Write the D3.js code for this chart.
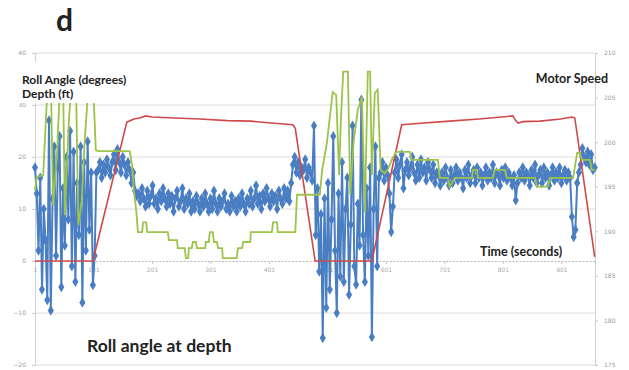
<!DOCTYPE html>
<html>
<head>
<meta charset="utf-8">
<script src="https://cdn.jsdelivr.net/npm/d3@7"></script>
<style>
  html, body { margin: 0; padding: 0; background: #fff; }
  svg { display: block; }
</style>
</head>
<body>
<div id="chart"></div>
<script>
// roll angle sampled every 3 seconds, starting at t = 1
const rollStep = 3;
const rollAngle = [
  18, 13, 2, 16, -5.5, 10, 4, -7.5, 27, -9.5, 12, 22, 1, 18, 24, -5, 14, 3, 20, 8,
  25, -1, 21, -4, 15, 5, 22, -8, 19, 2, 23, 6, 17, -4.6, 1, 17,
  17.5, 19, 16, 18.5, 17, 19.5, 18, 16.5, 19, 20.5, 17.5, 21.5, 19, 17, 20, 18.5, 16.5, 19, 17.5, 15, 17, 13.5, 12.5,
  13, 11.5, 14, 12, 10.5, 13.5, 11, 12.5, 14.5, 11, 12, 10, 13, 11.5, 14, 12, 10.5, 13, 11, 12.5,
  9.5, 12, 13.5, 10.5, 11.5, 14, 10, 12, 11, 13, 9.5, 11.5, 10, 12.5, 11, 9.5, 12, 10.5, 13, 11,
  9.5, 12, 10, 13.5, 11, 9.5, 12, 10.5, 11.5, 13, 10, 11, 9.5, 12.5, 10.5, 11.5, 9.5, 12, 10.5, 13,
  11, 9.5, 12, 11, 13.5, 10.5, 12, 14.5, 11, 12.5, 10, 13, 11.5, 14, 12, 10.5, 13, 11.5, 12.5, 10,
  13.5, 12, 11, 14, 12, 13.5, 11.5, 15,
  18.5, 20, 17, 19, 16.5, 18, 17.5, 19.5, 16, 18, 17, 15.5,
  26, 5, 14, -2, 9, -14.8, 12, -9, 15, -5.5, 8, 24, 2, -10, 13, -3, 19, -4, 10, 16,
  -6.5, 7, 26, -1, -4.5, 11, 3, 31, 5, -4, 14, 1, 18, -14.6, 10, 22, -1, 16,
  17, 19, 15.5, 18, 16.5, 13, 5.6, 10.5, 17, 19.5, 16, 18.5, 20.5, 14, 17.5, 19, 16.5, 18, 20, 17,
  15.5, 18.5, 16, 19.5, 17, 18, 15.5, 19, 17.5, 16, 18.5, 15, 17, 16.5, 14.5, 17, 15.5, 18, 16, 14.5,
  17.5, 15, 16.5, 18, 15.5, 17, 16, 14, 17.5, 16, 18.5, 15, 16.5, 17.5, 15, 18, 16, 17, 14.5, 16.5,
  18, 15.5, 17, 16, 18.5, 15, 17, 16.5, 14.5, 17.5, 16, 18, 15.5, 17, 16, 14.5, 16.5, 11.7, 15, 17,
  16, 18, 15.5, 17, 16.5, 14.5, 17.5, 16, 18.5, 15, 16.5, 17.5, 15, 18, 16, 17, 14.5, 16.5, 18, 15.5,
  17, 16, 18, 15, 16.5, 17.5, 15.5, 17, 16, 8.5, 4.6, 6, 15, 17, 18.5, 21.7, 20, 19, 21, 18.5,
  20.5, 17.5, 18
];

// depth (ft), left axis
const depthTime = [1, 100, 158, 170, 180, 190, 201, 240, 283, 330, 369, 410, 442, 446, 480, 577, 628, 660, 710, 760, 818, 823, 827, 835, 864, 900, 919, 924, 958];
const depthFt   = [0, 0, 26.7, 27.3, 27.5, 27.9, 27.7, 27.5, 27.3, 27.0, 26.9, 26.5, 26.2, 25.5, 0, 0, 26.2, 26.5, 26.9, 27.3, 27.9, 27.0, 26.5, 26.8, 26.9, 27.3, 27.7, 27.5, 0.8];

// motor speed, right axis
const speedTime = [1, 4, 15, 23, 28, 32, 39, 44, 49, 52, 59, 64, 71, 75, 81, 85, 93, 100, 105, 109,
  163, 167, 170, 174, 177, 184, 186, 191, 193, 228, 230, 244, 245, 257, 259, 263, 264, 269, 271, 276, 278,
  292, 293, 298, 300, 305, 307, 312, 314, 321, 322, 346, 348, 355, 357, 369, 370, 406, 408, 415, 416, 446, 449,
  488, 492, 500, 510, 516, 521, 524, 528, 536, 540, 546, 553, 560, 565, 570, 574, 577, 582, 587, 592, 599, 604,
  611, 618, 642, 645, 690, 693, 707, 710, 719, 748, 750, 757, 758, 784, 787, 804, 808, 856, 859, 878, 881,
  921, 928, 933, 936, 950, 953, 958];
const motorSpeed = [194.6, 196.1, 196.3, 207, 207, 192.9, 199.1, 207, 207, 191.8, 202.5, 207, 207, 190.7, 193.5, 199.1, 207, 207, 199.1, 199.0,
  199.0, 197.4, 194.6, 192.4, 189.9, 189.9, 191.0, 191.0, 189.9, 189.9, 189.0, 189.0, 188.1, 188.1, 187.0, 187.0, 188.1, 188.1, 188.8, 188.8, 188.1,
  188.1, 188.8, 188.8, 189.9, 189.9, 188.8, 188.8, 188.1, 188.1, 187.0, 187.0, 188.1, 188.1, 188.8, 188.8, 189.9, 189.9, 191.0, 191.0, 189.9, 189.9, 194.1,
  194.1, 196.9, 199.9, 205.6, 205.3, 196.3, 202.5, 207.9, 207.9, 194.1, 200.2, 203.6, 205.1, 192.1, 207.9, 207.9, 196.3, 205.5, 205.9, 196.9, 196.5, 196.9,
  198.0, 198.9, 198.9, 198.0, 198.0, 196.0, 196.0, 195.0, 196.0, 196.0, 196.9, 196.9, 196.0, 196.0, 196.9, 196.9, 196.0, 196.0, 195.0, 195.0, 196.0,
  196.0, 198.8, 198.8, 198.0, 198.0, 196.9, 196.9];

const leftTicks = [40, 30, 20, 10, 0, -10, -20];
const rightTicks = [210, 205, 200, 195, 190, 185, 180, 175];
const timeTicks = [1, 101, 201, 301, 401, 501, 601, 701, 801, 901];

const width = 629, height = 370;
const blue = "#4a7ec2", red = "#d0494a", green = "#9cc34a";

const svg = d3.select("#chart").append("svg")
  .attr("width", width)
  .attr("height", height);

const x = d3.scaleLinear().domain([1, 958.5]).range([35, 595]);
const yL = d3.scaleLinear().domain([-20, 40]).range([365, 53]);
const yR = d3.scaleLinear().domain([175, 210]).range([365, 53]);

// gridlines
svg.append("g")
  .selectAll("line")
  .data(leftTicks.filter(d => d !== 0))
  .join("line")
    .attr("x1", x.range()[0]).attr("x2", x.range()[1])
    .attr("y1", d => yL(d)).attr("y2", d => yL(d))
    .style("stroke", "#dcdcdc")
    .style("stroke-width", 1);

// left axis
const gL = svg.append("g")
  .attr("transform", `translate(${x.range()[0]},0)`)
  .call(d3.axisLeft(yL).tickValues(leftTicks).tickSize(3).tickPadding(6));
gL.select(".domain").style("stroke", "#d0d0d0");
gL.selectAll(".tick line").style("stroke", "#c8c8c8");
gL.selectAll("text").style("font-family", "DejaVu Sans").style("font-size", "6px").style("fill", "#999");

// right axis
const gR = svg.append("g")
  .attr("transform", `translate(${x.range()[1]},0)`)
  .call(d3.axisRight(yR).tickValues(rightTicks).tickSize(3).tickPadding(6));
gR.select(".domain").style("stroke", "#d0d0d0");
gR.selectAll(".tick line").style("stroke", "#c8c8c8");
gR.selectAll("text").style("font-family", "DejaVu Sans").style("font-size", "6px").style("fill", "#999");

// time axis sits at roll = 0
const gX = svg.append("g")
  .attr("transform", `translate(0,${yL(0)})`)
  .call(d3.axisBottom(x).tickValues(timeTicks).tickSize(3).tickPadding(4).tickFormat(d3.format("d")));
gX.select(".domain").style("stroke", "#b8b8b8").style("stroke-dasharray", "2,1.5");
gX.selectAll(".tick line").style("stroke", "#c8c8c8");
gX.selectAll("text").style("font-family", "DejaVu Sans").style("font-size", "6px").style("fill", "#aaa");

// roll angle series
const rollData = rollAngle.map((v, i) => ({t: 1 + i * rollStep, v: v}));
const rollLine = d3.line().x(d => x(d.t)).y(d => yL(d.v));

svg.append("path")
  .datum(rollData)
  .attr("d", rollLine)
  .attr("fill", "none")
  .style("stroke", blue)
  .style("stroke-width", 2);

svg.append("g")
  .selectAll("path")
  .data(rollData)
  .join("path")
    .attr("d", d3.symbol().type(d3.symbolDiamond).size(32))
    .attr("transform", d => `translate(${x(d.t)},${yL(d.v)})`)
    .attr("fill", blue);

// depth
const depthData = depthTime.map((t, i) => ({t: t, v: depthFt[i]}));
svg.append("path")
  .datum(depthData)
  .attr("d", d3.line().x(d => x(d.t)).y(d => yL(d.v)))
  .attr("fill", "none")
  .style("stroke", red)
  .style("stroke-width", 1.6);

// motor speed
const speedData = speedTime.map((t, i) => ({t: t, v: motorSpeed[i]}));
svg.append("path")
  .datum(speedData)
  .attr("d", d3.line().x(d => x(d.t)).y(d => yR(d.v)))
  .attr("fill", "none")
  .style("stroke", green)
  .style("stroke-width", 1.8);

// label box on the left covers the tops of the traces
svg.append("rect")
  .attr("x", 18).attr("y", 62)
  .attr("width", 122).attr("height", 41)
  .attr("fill", "#fff");

const label = (txt, lx, ly, size, anchor) => svg.append("text")
  .attr("x", lx).attr("y", ly)
  .attr("text-anchor", anchor || "start")
  .style("font-family", "Lato, 'Liberation Sans', sans-serif")
  .style("font-weight", "bold")
  .style("font-size", size + "px")
  .style("fill", "#222")
  .text(txt);

label("d", 56, 31, 30);
label("Roll Angle (degrees)", 22, 84, 12);
label("Depth (ft)", 22, 98, 12);
label("Motor Speed", 608, 83, 12.5, "end");
label("Time (seconds)", 480, 256, 12.5);
label("Roll angle at depth", 87, 352, 17.5);
</script>
</body>
</html>
